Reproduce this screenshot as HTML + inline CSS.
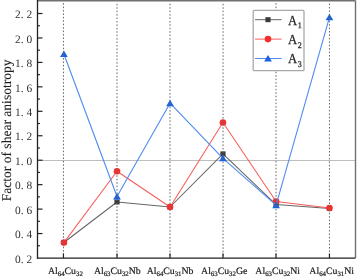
<!DOCTYPE html>
<html><head><meta charset="utf-8"><style>
html,body{margin:0;padding:0;background:#fff;}
body{width:357px;height:278px;overflow:hidden;font-family:"Liberation Serif",serif;}
svg{display:block;will-change:transform;} text{text-rendering:geometricPrecision;}
</style></head><body>
<svg width="357" height="278" viewBox="0 0 357 278"><rect x="0" y="0" width="357" height="278" fill="#fff"/><line x1="37.5" y1="160.5" x2="355.5" y2="160.5" stroke="#b6b6b6" stroke-width="0.9"/><polyline points="63.90,242.50 117.00,202.00 170.05,207.00 222.95,153.90 276.10,204.60 329.45,208.40" fill="none" stroke="#666666" stroke-width="1.05" stroke-linejoin="round"/><rect x="61.30" y="240.00" width="5.2" height="5.0" fill="#3a3a3a"/><rect x="114.40" y="199.50" width="5.2" height="5.0" fill="#3a3a3a"/><rect x="167.45" y="204.50" width="5.2" height="5.0" fill="#3a3a3a"/><rect x="220.35" y="151.40" width="5.2" height="5.0" fill="#3a3a3a"/><rect x="273.50" y="202.10" width="5.2" height="5.0" fill="#3a3a3a"/><rect x="326.85" y="205.90" width="5.2" height="5.0" fill="#3a3a3a"/><polyline points="63.90,242.60 117.00,171.30 170.05,207.00 222.95,122.50 276.10,201.50 329.45,208.10" fill="none" stroke="#f75c5c" stroke-width="1.05" stroke-linejoin="round"/><circle cx="63.90" cy="242.60" r="3.3" fill="#f42f2f"/><circle cx="117.00" cy="171.30" r="3.3" fill="#f42f2f"/><circle cx="170.05" cy="207.00" r="3.3" fill="#f42f2f"/><circle cx="222.95" cy="122.50" r="3.3" fill="#f42f2f"/><circle cx="276.10" cy="201.50" r="3.3" fill="#f42f2f"/><circle cx="329.45" cy="208.10" r="3.3" fill="#f42f2f"/><polyline points="63.90,54.00 117.00,196.50 170.05,103.20 222.95,158.30 276.10,205.20 329.45,17.30" fill="none" stroke="#4d8cee" stroke-width="1.1" stroke-linejoin="round"/><path d="M63.90,50.50 L67.75,57.00 L60.05,57.00 Z" fill="#1a62e0"/><path d="M117.00,193.00 L120.85,199.50 L113.15,199.50 Z" fill="#1a62e0"/><path d="M170.05,99.70 L173.90,106.20 L166.20,106.20 Z" fill="#1a62e0"/><path d="M222.95,154.80 L226.80,161.30 L219.10,161.30 Z" fill="#1a62e0"/><path d="M276.10,201.70 L279.95,208.20 L272.25,208.20 Z" fill="#1a62e0"/><path d="M329.45,13.80 L333.30,20.30 L325.60,20.30 Z" fill="#1a62e0"/><line x1="63.45" y1="3.10" x2="63.45" y2="258.1" stroke="#6a6a6a" stroke-width="1" stroke-dasharray="1.6 1.83"/><line x1="117.0" y1="3.80" x2="117.0" y2="258.1" stroke="#6a6a6a" stroke-width="1" stroke-dasharray="1.6 1.83"/><line x1="170.0" y1="3.70" x2="170.0" y2="258.1" stroke="#6a6a6a" stroke-width="1" stroke-dasharray="1.6 1.83"/><line x1="223.05" y1="3.80" x2="223.05" y2="258.1" stroke="#6a6a6a" stroke-width="1" stroke-dasharray="1.6 1.83"/><line x1="276.0" y1="3.10" x2="276.0" y2="258.1" stroke="#6a6a6a" stroke-width="1" stroke-dasharray="1.6 1.83"/><line x1="329.45" y1="3.50" x2="329.45" y2="258.1" stroke="#6a6a6a" stroke-width="1" stroke-dasharray="1.6 1.83"/><rect x="253.2" y="10.4" width="50.8" height="60.3" rx="1" fill="#fff" stroke="#a9a9a9" stroke-width="1.3"/><line x1="255" y1="19.7" x2="281.6" y2="19.7" stroke="#666666" stroke-width="1"/><rect x="265.4" y="17.2" width="5.2" height="5" fill="#3a3a3a"/><line x1="255" y1="39.1" x2="281.6" y2="39.1" stroke="#f75c5c" stroke-width="1"/><circle cx="268" cy="39.1" r="3.3" fill="#f42f2f"/><line x1="255" y1="58.5" x2="281.6" y2="58.5" stroke="#4d8cee" stroke-width="1"/><path d="M268,55.1 L271.9,61.5 L264.1,61.5 Z" fill="#1a62e0"/><line x1="37.5" y1="0.6" x2="355.5" y2="0.6" stroke="#707070" stroke-width="1.6"/><line x1="355.5" y1="0.6" x2="355.5" y2="258.1" stroke="#707070" stroke-width="1.4"/><line x1="37.5" y1="-0.20000000000000007" x2="37.5" y2="258.70000000000005" stroke="#222" stroke-width="1.3"/><line x1="36.9" y1="258.1" x2="355.5" y2="258.1" stroke="#222" stroke-width="1.3"/><line x1="37.5" y1="245.78" x2="39.9" y2="245.78" stroke="#222" stroke-width="1.2"/><text transform="translate(32.2,262.70)" text-anchor="end" font-family="Liberation Serif" font-size="11.4" fill="#333">0. 2</text><line x1="37.5" y1="233.55" x2="42.5" y2="233.55" stroke="#222" stroke-width="1.2"/><line x1="37.5" y1="221.32" x2="39.9" y2="221.32" stroke="#222" stroke-width="1.2"/><text transform="translate(32.2,238.25)" text-anchor="end" font-family="Liberation Serif" font-size="11.4" fill="#333">0. 4</text><line x1="37.5" y1="209.10" x2="42.5" y2="209.10" stroke="#222" stroke-width="1.2"/><line x1="37.5" y1="196.88" x2="39.9" y2="196.88" stroke="#222" stroke-width="1.2"/><text transform="translate(32.2,213.80)" text-anchor="end" font-family="Liberation Serif" font-size="11.4" fill="#333">0. 6</text><line x1="37.5" y1="184.65" x2="42.5" y2="184.65" stroke="#222" stroke-width="1.2"/><line x1="37.5" y1="172.43" x2="39.9" y2="172.43" stroke="#222" stroke-width="1.2"/><text transform="translate(32.2,189.35)" text-anchor="end" font-family="Liberation Serif" font-size="11.4" fill="#333">0. 8</text><line x1="37.5" y1="160.20" x2="42.5" y2="160.20" stroke="#222" stroke-width="1.2"/><line x1="37.5" y1="147.97" x2="39.9" y2="147.97" stroke="#222" stroke-width="1.2"/><text transform="translate(32.2,164.90)" text-anchor="end" font-family="Liberation Serif" font-size="11.4" fill="#333">1. 0</text><line x1="37.5" y1="135.75" x2="42.5" y2="135.75" stroke="#222" stroke-width="1.2"/><line x1="37.5" y1="123.52" x2="39.9" y2="123.52" stroke="#222" stroke-width="1.2"/><text transform="translate(32.2,140.45)" text-anchor="end" font-family="Liberation Serif" font-size="11.4" fill="#333">1. 2</text><line x1="37.5" y1="111.30" x2="42.5" y2="111.30" stroke="#222" stroke-width="1.2"/><line x1="37.5" y1="99.07" x2="39.9" y2="99.07" stroke="#222" stroke-width="1.2"/><text transform="translate(32.2,116.00)" text-anchor="end" font-family="Liberation Serif" font-size="11.4" fill="#333">1. 4</text><line x1="37.5" y1="86.85" x2="42.5" y2="86.85" stroke="#222" stroke-width="1.2"/><line x1="37.5" y1="74.62" x2="39.9" y2="74.62" stroke="#222" stroke-width="1.2"/><text transform="translate(32.2,91.55)" text-anchor="end" font-family="Liberation Serif" font-size="11.4" fill="#333">1. 6</text><line x1="37.5" y1="62.40" x2="42.5" y2="62.40" stroke="#222" stroke-width="1.2"/><line x1="37.5" y1="50.17" x2="39.9" y2="50.17" stroke="#222" stroke-width="1.2"/><text transform="translate(32.2,67.10)" text-anchor="end" font-family="Liberation Serif" font-size="11.4" fill="#333">1. 8</text><line x1="37.5" y1="37.95" x2="42.5" y2="37.95" stroke="#222" stroke-width="1.2"/><line x1="37.5" y1="25.73" x2="39.9" y2="25.73" stroke="#222" stroke-width="1.2"/><text transform="translate(32.2,42.65)" text-anchor="end" font-family="Liberation Serif" font-size="11.4" fill="#333">2. 0</text><line x1="37.5" y1="13.50" x2="42.5" y2="13.50" stroke="#222" stroke-width="1.2"/><text transform="translate(32.2,18.20)" text-anchor="end" font-family="Liberation Serif" font-size="11.4" fill="#333">2. 2</text><line x1="63.45" y1="258.1" x2="63.45" y2="253.50000000000003" stroke="#222" stroke-width="1.2"/><line x1="117.0" y1="258.1" x2="117.0" y2="253.50000000000003" stroke="#222" stroke-width="1.2"/><line x1="170.0" y1="258.1" x2="170.0" y2="253.50000000000003" stroke="#222" stroke-width="1.2"/><line x1="223.05" y1="258.1" x2="223.05" y2="253.50000000000003" stroke="#222" stroke-width="1.2"/><line x1="276.0" y1="258.1" x2="276.0" y2="253.50000000000003" stroke="#222" stroke-width="1.2"/><line x1="329.45" y1="258.1" x2="329.45" y2="253.50000000000003" stroke="#222" stroke-width="1.2"/><text transform="translate(65.4,273.6)" text-anchor="middle" font-family="Liberation Serif" font-size="9.8" fill="#222" stroke="#222" stroke-width="0.22">Al<tspan font-size="6.8" dy="2.5">64</tspan><tspan dy="-2.5">Cu</tspan><tspan font-size="6.8" dy="2.5">32</tspan><tspan dy="-2.5"></tspan></text><text transform="translate(117.3,273.6)" text-anchor="middle" font-family="Liberation Serif" font-size="9.8" fill="#222" stroke="#222" stroke-width="0.22">Al<tspan font-size="6.8" dy="2.5">63</tspan><tspan dy="-2.5">Cu</tspan><tspan font-size="6.8" dy="2.5">32</tspan><tspan dy="-2.5">Nb</tspan></text><text transform="translate(170.1,273.6)" text-anchor="middle" font-family="Liberation Serif" font-size="9.8" fill="#222" stroke="#222" stroke-width="0.22">Al<tspan font-size="6.8" dy="2.5">64</tspan><tspan dy="-2.5">Cu</tspan><tspan font-size="6.8" dy="2.5">31</tspan><tspan dy="-2.5">Nb</tspan></text><text transform="translate(224.2,273.6)" text-anchor="middle" font-family="Liberation Serif" font-size="9.8" fill="#222" stroke="#222" stroke-width="0.22">Al<tspan font-size="6.8" dy="2.5">63</tspan><tspan dy="-2.5">Cu</tspan><tspan font-size="6.8" dy="2.5">32</tspan><tspan dy="-2.5">Ge</tspan></text><text transform="translate(277.7,273.6)" text-anchor="middle" font-family="Liberation Serif" font-size="9.8" fill="#222" stroke="#222" stroke-width="0.22">Al<tspan font-size="6.8" dy="2.5">63</tspan><tspan dy="-2.5">Cu</tspan><tspan font-size="6.8" dy="2.5">32</tspan><tspan dy="-2.5">Ni</tspan></text><text transform="translate(331.7,273.6)" text-anchor="middle" font-family="Liberation Serif" font-size="9.8" fill="#222" stroke="#222" stroke-width="0.22">Al<tspan font-size="6.8" dy="2.5">64</tspan><tspan dy="-2.5">Cu</tspan><tspan font-size="6.8" dy="2.5">31</tspan><tspan dy="-2.5">Ni</tspan></text><text transform="translate(10.7,201.3) rotate(-90)" font-family="Liberation Serif" font-size="13.55" fill="#1e1e1e" stroke="#1e1e1e" stroke-width="0.12">Factor of shear anisotropy</text><text transform="translate(288.0,24.60) scale(0.92,1)" font-family="Liberation Serif" font-size="13.8" fill="#1e1e1e" stroke="#1e1e1e" stroke-width="0.25">A<tspan font-size="8.7" dx="0.5" dy="3.8">1</tspan></text><text transform="translate(288.0,44.00) scale(0.92,1)" font-family="Liberation Serif" font-size="13.8" fill="#1e1e1e" stroke="#1e1e1e" stroke-width="0.25">A<tspan font-size="8.7" dx="0.5" dy="3.8">2</tspan></text><text transform="translate(288.0,63.40) scale(0.92,1)" font-family="Liberation Serif" font-size="13.8" fill="#1e1e1e" stroke="#1e1e1e" stroke-width="0.25">A<tspan font-size="8.7" dx="0.5" dy="3.8">3</tspan></text></svg>
</body></html>
